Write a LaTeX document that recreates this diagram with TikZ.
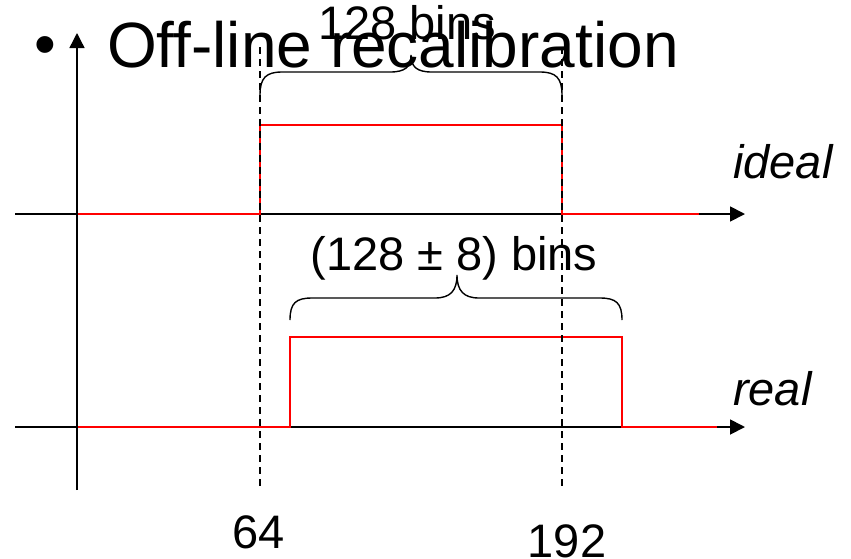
\documentclass[tikz,border=0pt]{standalone}
\usepackage{fontspec}
\setmainfont{Liberation Sans}
\usetikzlibrary{arrows.meta}
\begin{document}
\begin{tikzpicture}[x=1pt,y=-1pt,
  axis/.style={black,line width=1.8pt,-{Triangle[length=15pt,width=15pt]}},
  signal/.style={red,line width=1.8pt},
  guide/.style={black,line width=1.2pt,dash pattern=on 7pt off 5pt},
  bracecurve/.style={black,line width=1.4pt},
  lbl/.style={inner sep=0pt,font=\fontsize{47}{56}\selectfont},
  title/.style={inner sep=0pt,font=\fontsize{64}{76}\selectfont}]
\useasboundingbox (0,0) rectangle (851,558);
% axes
\coordinate (yb) at (77,490);
\coordinate (yt) at (77,33);
\draw[axis,line width=1.4pt] (yb) -- (yt);
\coordinate (a1) at (15,214);
\coordinate (a1e) at (745,214);
\draw[axis] (a1) -- (a1e);
\coordinate (a2) at (15,427);
\coordinate (a2e) at (745,427);
\draw[axis] (a2) -- (a2e);
% signals
\draw[signal] (78,214) -- (260,214) -- (260,125) -- (562,125) -- (562,214) -- (699,214);
\draw[signal] (78,427) -- (290,427) -- (290,337) -- (622,337) -- (622,427) -- (717,427);
% guides
\coordinate (g1t) at (260,47);
\coordinate (g1b) at (260,488);
\coordinate (g2t) at (562,47);
\coordinate (g2b) at (562,488);
\draw[guide] (g1t) -- (g1b);
\draw[guide] (g2t) -- (g2b);
% braces
\draw[bracecurve] (260,95) .. controls (260,78) and (266,72) .. (282,72) -- (390,72)
  .. controls (405,72) and (411,67) .. (411,55)
  .. controls (411,67) and (417,72) .. (432,72) -- (540,72)
  .. controls (556,72) and (562,78) .. (562,95);
\draw[bracecurve] (290,320) .. controls (290,303) and (296,298) .. (312,298) -- (435,298)
  .. controls (450,298) and (457,291) .. (457,275)
  .. controls (457,291) and (464,298) .. (479,298) -- (600,298)
  .. controls (616,298) and (622,303) .. (622,320);
% texts
\node[inner sep=0pt,font=\fontsize{62}{70}\selectfont,anchor=base west] (bul) at (34,65) {•};
\node[title,anchor=base west] (ttl) at (107,67) {Off-line recalibration};
\node[lbl,anchor=base] (b1) at (407,39) {128 bins};
\node[lbl,anchor=base] (b2) at (454,270) {(128 ± 8) bins};
\node[lbl,anchor=base west,font=\fontsize{47}{56}\selectfont\itshape] (id) at (733,178) {ideal};
\node[lbl,anchor=base west,font=\fontsize{47}{56}\selectfont\itshape] (re) at (733,405) {real};
\node[lbl,anchor=base] (t64) at (259,548) {64};
\node[lbl,anchor=base] (t192) at (567,557) {192};
\end{tikzpicture}
\end{document}
